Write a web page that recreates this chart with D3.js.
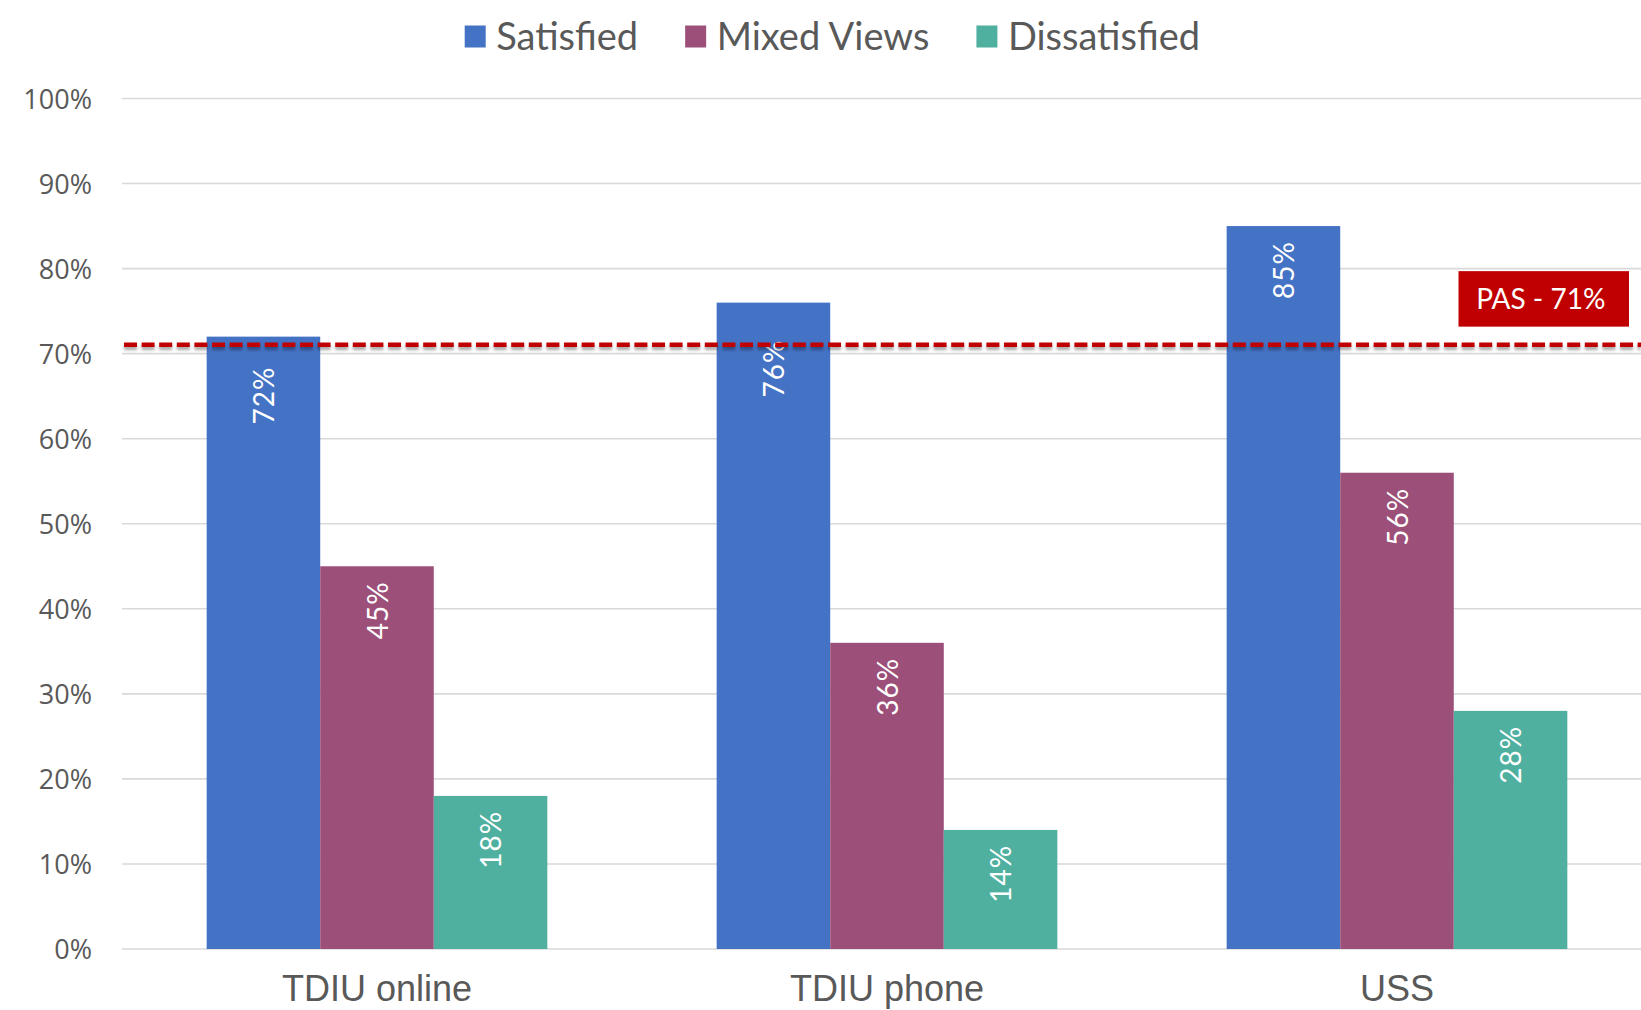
<!DOCTYPE html>
<html>
<head>
<meta charset="utf-8">
<script src="https://cdn.jsdelivr.net/npm/d3@7"></script>
<style>
  html, body { margin: 0; padding: 0; background: #ffffff; }
  svg { display: block; }
</style>
</head>
<body>
<svg id="chart" width="1641" height="1010"></svg>
<script>
// Survey channels and satisfaction shares (fractions of respondents)
const categories = ["TDIU online", "TDIU phone", "USS"];
const seriesNames = ["Satisfied", "Mixed Views", "Dissatisfied"];
const satisfied = [0.72, 0.76, 0.85];
const mixedViews = [0.45, 0.36, 0.56];
const dissatisfied = [0.18, 0.14, 0.28];
const yTicks = [0, 0.1, 0.2, 0.3, 0.4, 0.5, 0.6, 0.7, 0.8, 0.9, 1.0];
const pasTarget = 0.71;
const pasLabel = "PAS - 71%";

const seriesValues = [satisfied, mixedViews, dissatisfied];
const colors = ["#4472C4", "#9C4F79", "#4FB0A0"];

const svg = d3.select("#chart");
const W = 1641, H = 1010;
const plotLeft = 122, plotRight = 1652, plotTop = 98.5, plotBottom = 949;

const x0 = d3.scaleBand().domain(categories).range([plotLeft, plotRight])
  .paddingInner(0.332).paddingOuter(0.166);
const x1 = d3.scaleBand().domain(seriesNames).range([0, x0.bandwidth()]);
const y = d3.scaleLinear().domain([0, 1]).range([plotBottom, plotTop]);
const color = d3.scaleOrdinal().domain(seriesNames).range(colors);
const pct = d3.format(".0%");

// Horizontal gridlines (including the baseline)
svg.append("g").selectAll("line").data(yTicks).join("line")
  .attr("x1", plotLeft).attr("x2", plotRight)
  .attr("y1", d => y(d)).attr("y2", d => y(d))
  .attr("stroke", "#D9D9D9").attr("stroke-width", 1.6);

// Y axis labels
svg.append("g").selectAll("text").data(yTicks).join("text")
  .attr("x", 92).attr("y", d => y(d) + 10)
  .attr("text-anchor", "end")
  .attr("font-family", "'Open Sans', sans-serif")
  .attr("font-size", 27)
  .attr("fill", "#595959")
  .text(d => pct(d));

// Bars
const rows = [];
categories.forEach((c, i) => {
  seriesNames.forEach((s, j) => rows.push({ cat: c, series: s, value: seriesValues[j][i] }));
});

const groups = svg.append("g").selectAll("g").data(categories).join("g")
  .attr("transform", d => `translate(${x0(d)},0)`);

groups.selectAll("rect")
  .data(c => rows.filter(r => r.cat === c))
  .join("rect")
  .attr("x", d => x1(d.series))
  .attr("width", x1.bandwidth())
  .attr("y", d => y(d.value))
  .attr("height", d => y(0) - y(d.value))
  .attr("fill", d => color(d.series));

// Value labels, rotated, just inside the top of each bar
const labelGap = 15;
const labelNudge = { "TDIU online|Satisfied": 15, "TDIU phone|Satisfied": 22 };
groups.selectAll("text.val")
  .data(c => rows.filter(r => r.cat === c))
  .join("text")
  .attr("class", "val")
  .attr("transform", d => {
    const cx = x1(d.series) + x1.bandwidth() / 2 + 1;
    const ty = y(d.value) + labelGap + (labelNudge[d.cat + "|" + d.series] || 0);
    return `translate(${cx},${ty}) rotate(-90)`;
  })
  .attr("text-anchor", "end")
  .attr("dy", "0.35em")
  .attr("font-family", "Lato, sans-serif")
  .attr("font-size", 28)
  .attr("letter-spacing", 1)
  .attr("fill", "#ffffff")
  .text(d => pct(d.value));

// X axis labels
svg.append("g").selectAll("text").data(categories).join("text")
  .attr("x", d => x0(d) + x0.bandwidth() / 2)
  .attr("y", 1001)
  .attr("text-anchor", "middle")
  .attr("font-family", "'Liberation Sans', Arial, sans-serif")
  .attr("font-size", 36)
  .attr("fill", "#595959")
  .text(d => d);

// PAS target line with a soft shadow (filter region in user space,
// since a horizontal line has a zero-height bounding box)
const lineY = y(pasTarget) - 0.5;
const defs = svg.append("defs");
const f = defs.append("filter").attr("id", "lineShadow")
  .attr("filterUnits", "userSpaceOnUse")
  .attr("x", 0).attr("y", lineY - 20).attr("width", W).attr("height", 40);
f.append("feDropShadow").attr("dx", 0).attr("dy", 3).attr("stdDeviation", 1.6)
  .attr("flood-color", "#000000").attr("flood-opacity", 0.35);

svg.append("line")
  .attr("x1", plotLeft + 2).attr("x2", W)
  .attr("y1", lineY).attr("y2", lineY)
  .attr("stroke", "#C00000")
  .attr("stroke-width", 4.5)
  .attr("stroke-dasharray", "13 4.6")
  .attr("filter", "url(#lineShadow)");

// PAS label box
const boxW = 170.5, boxH = 55.5;
const boxX = plotRight - 23 - boxW;
const boxY = y(pasTarget) - 18.5 - boxH;
svg.append("rect")
  .attr("x", boxX).attr("y", boxY)
  .attr("width", boxW).attr("height", boxH)
  .attr("fill", "#C00000");
svg.append("text")
  .attr("x", boxX + boxW / 2 - 3).attr("y", boxY + boxH / 2 + 10)
  .attr("text-anchor", "middle")
  .attr("font-family", "Lato, sans-serif")
  .attr("font-size", 28)
  .attr("fill", "#ffffff")
  .text(pasLabel);

// Legend
const legend = svg.append("g");
let lx = 464.7;
seriesNames.forEach((s, i) => {
  legend.append("rect")
    .attr("x", lx).attr("y", 25.5)
    .attr("width", 21).attr("height", 22)
    .attr("fill", color(s));
  const t = legend.append("text")
    .attr("x", lx + 31.5).attr("y", 49.5)
    .attr("font-family", "Lato, sans-serif")
    .attr("font-size", 38)
    .attr("fill", "#595959")
    .text(s);
  lx += 31.5 + t.node().getComputedTextLength() + 47;
});
</script>
</body>
</html>
